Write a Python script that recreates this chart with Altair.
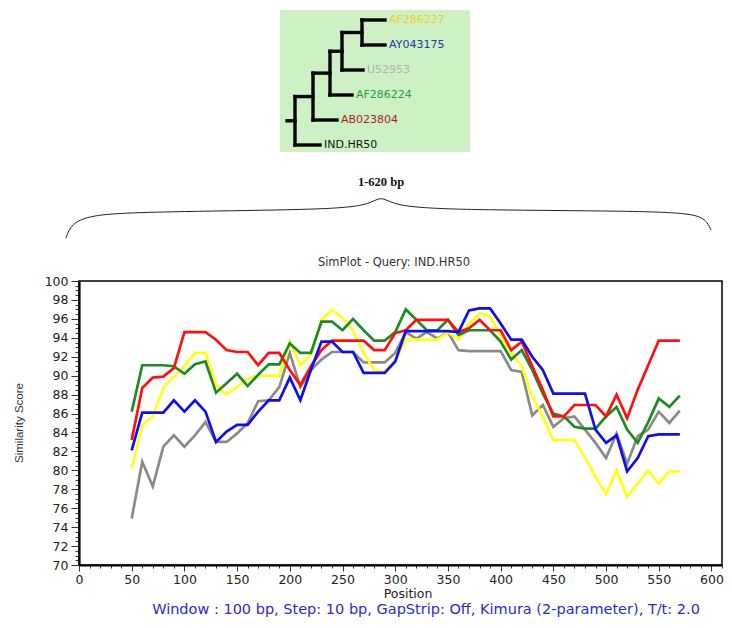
import altair as alt
import pandas as pd

# ---------------- data ----------------
positions = list(range(50, 571, 10))

score_u52953 = [74.9, 80.9, 78.3, 82.5, 83.7, 82.5, 83.7, 85.1, 83.0, 83.0,
                83.9, 85.0, 87.3, 87.4, 88.8, 92.4, 88.8, 90.6, 91.7, 92.5,
                92.5, 92.5, 91.4, 91.4, 91.4, 92.4, 94.6, 93.9, 94.6, 93.9,
                94.6, 92.7, 92.6, 92.6, 92.6, 92.6, 90.6, 90.4, 85.8, 86.9,
                84.6, 85.5, 85.7, 84.3, 82.9, 81.3, 83.9, 80.7, 83.6, 84.3,
                86.2, 85.0, 86.3]
score_af286227 = [80.2, 84.8, 85.7, 88.7, 89.9, 91.0, 92.4, 92.4, 89.0, 88.0,
                  88.8, 89.7, 90.0, 90.0, 90.0, 93.6, 91.1, 92.2, 95.9, 96.9,
                  96.1, 94.8, 92.4, 90.6, 90.4, 91.6, 93.8, 93.8, 93.8, 93.8,
                  94.6, 93.8, 95.5, 96.6, 96.2, 94.3, 92.4, 91.0, 87.8, 85.7,
                  83.2, 83.2, 83.2, 81.4, 79.3, 77.5, 80.0, 77.2, 78.6, 80.0,
                  78.6, 79.9, 79.9]
score_af286224 = [86.2, 91.1, 91.1, 91.1, 91.0, 90.2, 91.2, 91.5, 88.2, 89.2,
                  90.2, 88.9, 90.1, 91.2, 91.2, 93.4, 92.4, 92.4, 95.7, 95.7,
                  94.8, 96.0, 94.8, 93.7, 93.7, 94.6, 97.0, 95.9, 94.8, 94.8,
                  95.9, 94.3, 94.8, 94.8, 94.8, 93.6, 91.7, 92.7, 90.6, 88.1,
                  86.0, 85.7, 84.6, 84.4, 84.4, 85.7, 86.7, 84.3, 82.9, 85.1,
                  87.6, 86.7, 87.9]
score_ab023804 = [83.2, 88.7, 89.8, 89.9, 90.8, 94.6, 94.6, 94.6, 93.8, 92.7,
                  92.5, 92.5, 91.1, 92.4, 92.4, 90.6, 89.0, 91.0, 92.7, 93.7,
                  93.7, 93.7, 93.7, 92.7, 92.7, 94.5, 94.8, 95.9, 95.9, 95.9,
                  95.9, 94.6, 95.0, 95.9, 94.8, 94.8, 92.7, 93.6, 91.0, 88.5,
                  85.7, 85.7, 86.9, 86.9, 86.9, 85.7, 88.0, 85.5, 88.5, 91.1,
                  93.7, 93.7, 93.7]
score_ay043175 = [82.1, 86.1, 86.1, 86.1, 87.4, 86.2, 87.4, 86.2, 83.0, 84.1,
                  84.8, 84.8, 86.2, 87.4, 87.4, 89.8, 87.4, 90.6, 93.6, 93.6,
                  92.5, 92.5, 90.3, 90.3, 90.3, 91.5, 94.7, 94.7, 94.7, 94.7,
                  94.7, 94.6, 96.9, 97.1, 97.1, 95.5, 93.8, 93.8, 92.0, 90.6,
                  88.1, 88.1, 88.1, 88.1, 84.3, 82.9, 83.7, 79.9, 81.3, 83.6,
                  83.8, 83.8, 83.8]

series_names = ["U52953", "AF286227", "AF286224", "AB023804", "AY043175"]
series_scores = [score_u52953, score_af286227, score_af286224, score_ab023804, score_ay043175]
series_colors = ["#8a8a8a", "#ffff1a", "#1f8a24", "#ff1010", "#1010e6"]

# tree
tip_names = ["AF286227", "AY043175", "U52953", "AF286224", "AB023804", "IND.HR50"]
tip_depths = [98, 98, 76, 65, 50, 33]
tip_colors = ["#f0d21c", "#1e3a9e", "#b3b3b3", "#2f9e3c", "#a61e1e", "#111111"]
node_names = ["E", "D", "C", "B", "A"]
node_depths = [75, 55, 43, 26, 8]
node_children = [["AF286227", "AY043175"], ["E", "U52953"], ["D", "AF286224"],
                 ["C", "AB023804"], ["B", "IND.HR50"]]
root_stub_depth = 0

# texts
plot_title = "SimPlot - Query: IND.HR50"
x_title = "Position"
y_title = "Similarity Score"
region_label = "1-620 bp"
caption = "Window : 100 bp, Step: 10 bp, GapStrip: Off, Kimura (2-parameter), T/t: 2.0"

# ---------------- layout (page pixels) ----------------
W, H = 643, 284
PAD_L, PAD_T = 71, 273
X0, Y0 = 8 + PAD_L, 8 + PAD_T  # plot origin on page

# ---------------- main plot ----------------
xs = alt.Scale(domain=[0, 610], nice=False, zero=False)
ys = alt.Scale(domain=[70, 100], nice=False, zero=False)
x_axis = alt.Axis(
    values=list(range(0, 611, 10)),
    labelExpr="datum.value % 50 === 0 ? format(datum.value, 'd') : ''",
    tickSize={"condition": {"test": "datum.value % 50 === 0", "value": 6}, "value": 3},
    labelOverlap=False, labelFlush=False, grid=False, title=None,
    domainColor="black", domainWidth=2.2, tickColor="#333", tickWidth=1,
    labelFont="DejaVu Sans", labelFontSize=12.5, labelColor="#222", labelPadding=2,
)
y_axis = alt.Axis(
    values=[70 + 0.5 * i for i in range(61)],
    labelExpr="datum.value % 2 === 0 ? format(datum.value, 'd') : ''",
    tickSize={"condition": {"test": "datum.value % 2 === 0", "value": 8}, "value": 4},
    labelOverlap=False, labelFlush=False, grid=False, title=None,
    domainColor="black", domainWidth=2.2, tickColor="#333", tickWidth=1,
    labelFont="DejaVu Sans", labelFontSize=12.5, labelColor="#222", labelPadding=3,
)

line_layers = []
for name, sc, col in zip(series_names, series_scores, series_colors):
    df = pd.DataFrame({"Position": positions, "Score": sc, "Series": name})
    line_layers.append(
        alt.Chart(df).mark_line(strokeWidth=2.7, color=col).encode(
            x=alt.X("Position:Q", scale=xs, axis=x_axis),
            y=alt.Y("Score:Q", scale=ys, axis=y_axis),
        )
    )
main = alt.layer(*line_layers)

# ---------------- tree ----------------
rows = {n: i for i, n in enumerate(tip_names)}
depths = dict(zip(tip_names, tip_depths))
for n, d, ch in zip(node_names, node_depths, node_children):
    rows[n] = sum(rows[c] for c in ch) / len(ch)
    depths[n] = d
segs = []
for n, d, ch in zip(node_names, node_depths, node_children):
    segs.append({"d1": d, "d2": d, "r1": min(rows[c] for c in ch), "r2": max(rows[c] for c in ch)})
    for c in ch:
        segs.append({"d1": d, "d2": depths[c], "r1": rows[c], "r2": rows[c]})
segs.append({"d1": root_stub_depth, "d2": node_depths[-1], "r1": rows["A"], "r2": rows["A"]})
seg_df = pd.DataFrame(segs)

tx = alt.Scale(domain=[0, 100], range=[287 - X0, 387 - X0], nice=False, zero=False)
ty = alt.Scale(domain=[0, 5], range=[20 - Y0, 145 - Y0], nice=False, zero=False)

box = alt.Chart(pd.DataFrame({"d1": [-7], "d2": [183], "r1": [-0.4], "r2": [5.28]})).mark_rect(
    color="#cdf0c5").encode(
    x=alt.X("d1:Q", scale=tx, axis=None), x2="d2:Q",
    y=alt.Y("r1:Q", scale=ty, axis=None), y2="r2:Q")
branches = alt.Chart(seg_df).mark_rule(color="black", strokeWidth=3.4, strokeCap="square").encode(
    x=alt.X("d1:Q", scale=tx, axis=None), x2="d2:Q",
    y=alt.Y("r1:Q", scale=ty, axis=None), y2="r2:Q")
tip_df = pd.DataFrame({"d1": tip_depths, "r1": list(range(len(tip_names))), "name": tip_names})
tip_labels = alt.Chart(tip_df).mark_text(align="left", baseline="middle", dx=4,
                                         font="DejaVu Sans", fontSize=11).encode(
    x=alt.X("d1:Q", scale=tx, axis=None),
    y=alt.Y("r1:Q", scale=ty, axis=None),
    text="name:N",
    color=alt.Color("name:N", scale=alt.Scale(domain=tip_names, range=tip_colors), legend=None))
tree = alt.layer(box, branches, tip_labels)

# ---------------- page annotations ----------------
px = alt.Scale(domain=[X0, X0 + W], range=[0, W], nice=False, zero=False)
py = alt.Scale(domain=[Y0, Y0 + H], range=[0, H], nice=False, zero=False)

brace_x = [66, 71, 90, 140, 290, 345, 370, 381, 392, 420, 480, 630, 690, 706, 711]
brace_y = [238, 224, 215, 212, 210, 208, 204, 196, 204, 208, 210, 211, 213, 219, 230]
brace = alt.Chart(pd.DataFrame({"px": brace_x, "py": brace_y, "o": list(range(len(brace_x)))})).mark_line(
    color="#222", strokeWidth=1, interpolate="basis").encode(
    x=alt.X("px:Q", scale=px, axis=None), y=alt.Y("py:Q", scale=py, axis=None), order="o:Q")


def txt(s, x, y, **kw):
    return alt.Chart(pd.DataFrame({"px": [x], "py": [y], "t": [s]})).mark_text(
        baseline="middle", **kw).encode(
        x=alt.X("px:Q", scale=px, axis=None), y=alt.Y("py:Q", scale=py, axis=None), text="t:N")


annots = alt.layer(
    brace,
    txt(region_label, 381, 182, font="Liberation Serif", fontWeight="bold", fontSize=12.5, color="#111"),
    txt(plot_title, 394, 263, font="DejaVu Sans", fontSize=11.5, color="#333"),
    txt(x_title, 408, 594, font="DejaVu Sans", fontSize=12.5, color="#222"),
    txt(y_title, 20, 423, font="Liberation Sans", fontSize=11.5, color="#333", angle=270),
    txt(caption, 426, 610, font="DejaVu Sans", fontSize=14.5, color="#2b2bc8"),
)

chart = alt.layer(main, tree, annots).resolve_scale(
    x="independent", y="independent", color="independent"
).properties(
    width=W, height=H,
    autosize=alt.AutoSizeParams(type="none"),
    padding={"left": PAD_L, "top": PAD_T, "right": 2, "bottom": 55},
).configure_view(stroke="black", strokeWidth=1.5)

chart.save("out.html", embed_options={"renderer": "svg", "actions": False})
